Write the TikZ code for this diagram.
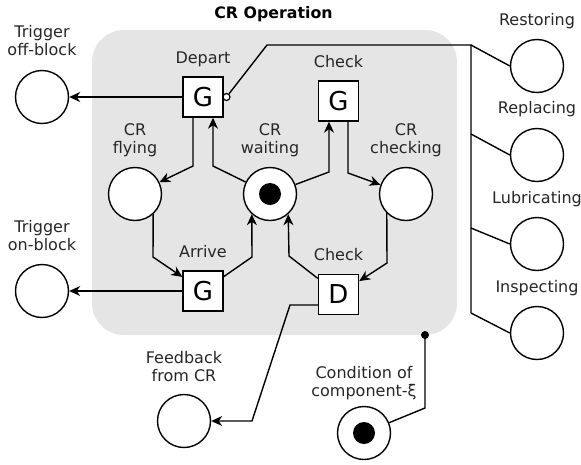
\documentclass[tikz,border=0pt]{standalone}
\usepackage{fontspec}
\setmainfont{DejaVu Sans}
\usetikzlibrary{arrows.meta}
\begin{document}
\begin{tikzpicture}[x=1pt,y=-1pt,
  place/.style={circle,draw,fill=white,line width=1.4pt,minimum size=53pt,inner sep=0pt},
  token/.style={circle,fill=black,minimum size=22pt,inner sep=0pt},
  trans/.style={rectangle,draw,fill=white,line width=1.4pt,minimum size=40pt,inner sep=0pt,font=\fontsize{26}{26}\selectfont},
  lbl/.style={font=\fontsize{16}{18}\selectfont,text=black!85,align=center,inner sep=0pt,anchor=base},
  arr/.style={line width=1.4pt,-{Stealth[length=11pt,width=10pt,inset=3.5pt]}},
  ln/.style={line width=1.4pt},
]
\useasboundingbox (0,0) rectangle (581,464);
\node[fill=black!10,rounded corners=32pt,minimum width=365pt,minimum height=305pt,inner sep=0pt] (bg) at (274.5,182.5) {};
\node[font=\fontsize{15.8}{18}\selectfont\bfseries,anchor=base,inner sep=0pt] (title) at (273.5,18) {CR Operation};

% places
\node[place] (toff) at (42,97) {};
\node[place] (ton) at (42,291) {};
\node[place] (fly) at (135,194) {};
\node[place] (wait) at (270,194) {};
\node[token] (wtok) at (wait) {};
\node[place] (chking) at (406,194) {};
\node[place] (fb) at (184,421) {};
\node[place] (cond) at (364,433) {};
\node[token] (ctok) at (cond) {};
\node[place] (rest) at (537,66) {};
\node[place] (repl) at (537,155) {};
\node[place] (lub) at (537,244) {};
\node[place] (insp) at (537,333) {};

% transitions
\node[trans] (dep) at (203,97) {G};
\node[trans] (chkG) at (338.5,101) {G};
\node[trans] (arrv) at (203,291) {G};
\node[trans] (chkD) at (338.5,294.5) {D};

% labels (base = baseline of last line)
\node[lbl] (ldep) at (203,63) {Depart};
\node[lbl] (lchkG) at (338.5,67) {Check};
\node[lbl] (larrv) at (203,257) {Arrive};
\node[lbl] (lchkD) at (338.5,260) {Check};
\node[lbl] (lfly) at (135,153) {CR\\flying};
\node[lbl] (lwait) at (270,153) {CR\\waiting};
\node[lbl] (lchking) at (406,153) {CR\\checking};
\node[lbl] (ltoff) at (42,55) {Trigger\\off-block};
\node[lbl] (lton) at (42,250) {Trigger\\on-block};
\node[lbl] (lfb) at (184,381) {Feedback\\from CR};
\node[lbl] (lcond) at (364,396) {Condition of\\component-ξ};
\node[lbl] (lrest) at (537,25) {Restoring};
\node[lbl] (lrepl) at (537,113) {Replacing};
\node[lbl] (llub) at (537,203) {Lubricating};
\node[lbl] (linsp) at (537,292) {Inspecting};

% inhibitor bus
\node[circle,draw,fill=white,line width=1.2pt,minimum size=7pt,inner sep=0pt] (inh) at (226.5,97) {};
\coordinate (b1) at (471,45);
\coordinate (b2) at (471,134);
\coordinate (b3) at (471,228);
\coordinate (b4) at (471,313);
\draw[ln] (inh) -- (267,45) -- (b1) -- (b4);
\draw[ln] (b1) -- (rest.west);
\draw[ln] (b2) -- (repl.west);
\draw[ln] (b3) -- (lub.west);
\draw[ln] (b4) -- (insp.west);

% arcs
\draw[arr] (dep) -- (toff);
\draw[arr] (arrv) -- (ton);
\draw[arr] ([xshift=-10pt]dep.south) -- (193,166) -- (fly);
\draw[arr] (wait) -- (213,166) -- ([xshift=10pt]dep.south);
\draw[arr] (wait) -- (329,172) -- ([xshift=-9.5pt]chkG.south);
\draw[arr] ([xshift=9.5pt]chkG.south) -- (348,173) -- (chking);
\draw[arr] (fly.-48) -- (153,257) -- (arrv);
\draw[arr] (arrv) -- (252,257) -- (wait.-132);
\draw[arr] (chkD) -- (289,256) -- (wait.-48);
\draw[arr] (chking.-135) -- (387,263) -- (chkD);
\draw[arr] ([yshift=-10.5pt]chkD.west) -- (290,305) -- (252,421) -- (fb);

% condition
\coordinate (cdot) at (425,335);
\draw[ln] (cond) -- (425,408) -- (cdot);
\fill (cdot) circle (4pt);
\end{tikzpicture}
\end{document}
